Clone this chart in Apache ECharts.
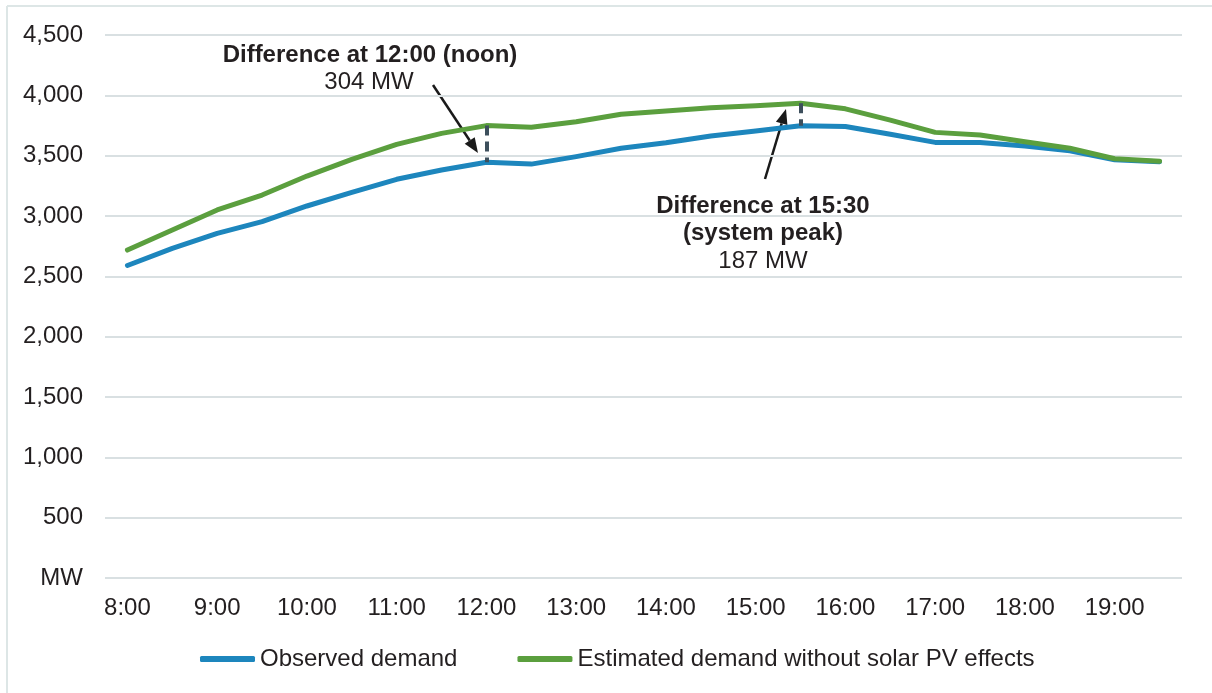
<!DOCTYPE html>
<html>
<head>
<meta charset="utf-8">
<script src="https://cdn.jsdelivr.net/npm/echarts@6/dist/echarts.min.js"></script>
<style>
html,body{margin:0;padding:0;background:#fff;}
#chart{width:1212px;height:693px;}
</style>
</head>
<body>
<div id="chart"></div>
<script>
const categories = ['8:00','8:30','9:00','9:30','10:00','10:30','11:00','11:30','12:00','12:30','13:00','13:30',
  '14:00','14:30','15:00','15:30','16:00','16:30','17:00','17:30','18:00','18:30','19:00','19:30'];
const observed = [2590, 2732, 2856, 2953, 3083, 3196, 3304, 3381, 3445, 3430, 3492, 3561,
  3607, 3663, 3704, 3748, 3742, 3677, 3610, 3610, 3580, 3541, 3466, 3450];
const estimated = [2718, 2884, 3050, 3174, 3331, 3470, 3594, 3685, 3749, 3735, 3781, 3843,
  3870, 3897, 3914, 3935, 3888, 3795, 3693, 3671, 3616, 3561, 3474, 3453];
const seriesNames = ['Observed demand', 'Estimated demand without solar PV effects'];
const yTicks = {min: 0, max: 4500, interval: 500};
const diffPoints = ['12:00', '15:30'];

const FONT = 'Liberation Sans, Arial, sans-serif';
const TXT = '#231f20';
const BLUE = '#1d86bd';
const GREEN = '#5b9f3e';

const chart = echarts.init(document.getElementById('chart'), null, {renderer: 'canvas'});

function diffLine(cat) {
  const i = categories.indexOf(cat);
  return [{coord: [cat, estimated[i]]}, {coord: [cat, observed[i]]}];
}

function arrow(x1, y1, x2, y2) {
  const dx = x2 - x1, dy = y2 - y1, len = Math.hypot(dx, dy);
  const ux = dx / len, uy = dy / len;
  const hl = 15, hw = 6;
  const bx = x2 - hl * ux, by = y2 - hl * uy;
  const px = -uy * hw, py = ux * hw;
  return {
    type: 'group',
    children: [
      {type: 'line', shape: {x1: x1, y1: y1, x2: bx, y2: by}, style: {stroke: '#1a1a1a', lineWidth: 2.5}},
      {type: 'polygon', shape: {points: [[x2, y2], [bx + px, by + py], [bx - px, by - py]]}, style: {fill: '#1a1a1a'}}
    ]
  };
}

const option = {
  animation: false,
  backgroundColor: '#ffffff',
  grid: {left: 105, right: 30, top: 35, bottom: 115, containLabel: false},
  xAxis: {
    type: 'category',
    data: categories,
    boundaryGap: true,
    axisLine: {show: false},
    axisTick: {show: false},
    axisLabel: {interval: 1, color: TXT, fontSize: 24, fontFamily: FONT, margin: 18},
    splitLine: {show: false}
  },
  yAxis: {
    type: 'value',
    min: yTicks.min, max: yTicks.max, interval: yTicks.interval,
    axisLine: {show: false},
    axisTick: {show: false},
    axisLabel: {
      color: TXT, fontSize: 24, fontFamily: FONT, margin: 22,
      formatter: v => v === 0 ? 'MW' : v.toLocaleString('en-US')
    },
    splitLine: {lineStyle: {color: '#d9e0e2', width: 2}}
  },
  legend: {
    bottom: 17,
    left: 195,
    itemWidth: 55,
    itemHeight: 6,
    itemGap: 60,
    icon: 'roundRect',
    textStyle: {color: TXT, fontSize: 24, fontFamily: FONT},
    data: seriesNames
  },
  series: [
    {
      name: seriesNames[0],
      type: 'line',
      data: observed,
      showSymbol: false,
      symbol: 'none',
      color: BLUE,
      lineStyle: {width: 5, color: BLUE, cap: 'round', join: 'round'},
      z: 2
    },
    {
      name: seriesNames[1],
      type: 'line',
      data: estimated,
      showSymbol: false,
      symbol: 'none',
      color: GREEN,
      lineStyle: {width: 5, color: GREEN, cap: 'round', join: 'round'},
      z: 3,
      markLine: {
        silent: true,
        symbol: ['none', 'none'],
        label: {show: false},
        lineStyle: {color: '#3d4f5c', width: 4, type: [10, 6]},
        data: diffPoints.map(diffLine),
        z: 4
      }
    }
  ],
  graphic: [
    {type: 'line', shape: {x1: 7, y1: 6, x2: 1212, y2: 6}, style: {stroke: '#dde6e6', lineWidth: 2}},
    {type: 'line', shape: {x1: 7, y1: 6, x2: 7, y2: 693}, style: {stroke: '#dde6e6', lineWidth: 2}},
    {type: 'text', x: 370, y: 55, style: {text: 'Difference at 12:00 (noon)', fill: TXT, font: 'bold 24px ' + FONT, textAlign: 'center', textVerticalAlign: 'middle'}},
    {type: 'text', x: 369, y: 82, style: {text: '304 MW', fill: TXT, font: '24px ' + FONT, textAlign: 'center', textVerticalAlign: 'middle'}},
    {type: 'text', x: 763, y: 206, style: {text: 'Difference at 15:30', fill: TXT, font: 'bold 24px ' + FONT, textAlign: 'center', textVerticalAlign: 'middle'}},
    {type: 'text', x: 763, y: 233, style: {text: '(system peak)', fill: TXT, font: 'bold 24px ' + FONT, textAlign: 'center', textVerticalAlign: 'middle'}},
    {type: 'text', x: 763, y: 261, style: {text: '187 MW', fill: TXT, font: '24px ' + FONT, textAlign: 'center', textVerticalAlign: 'middle'}},
    arrow(433, 85, 478, 153),
    arrow(765, 179, 786, 109)
  ]
};

chart.setOption(option);
</script>
</body>
</html>
